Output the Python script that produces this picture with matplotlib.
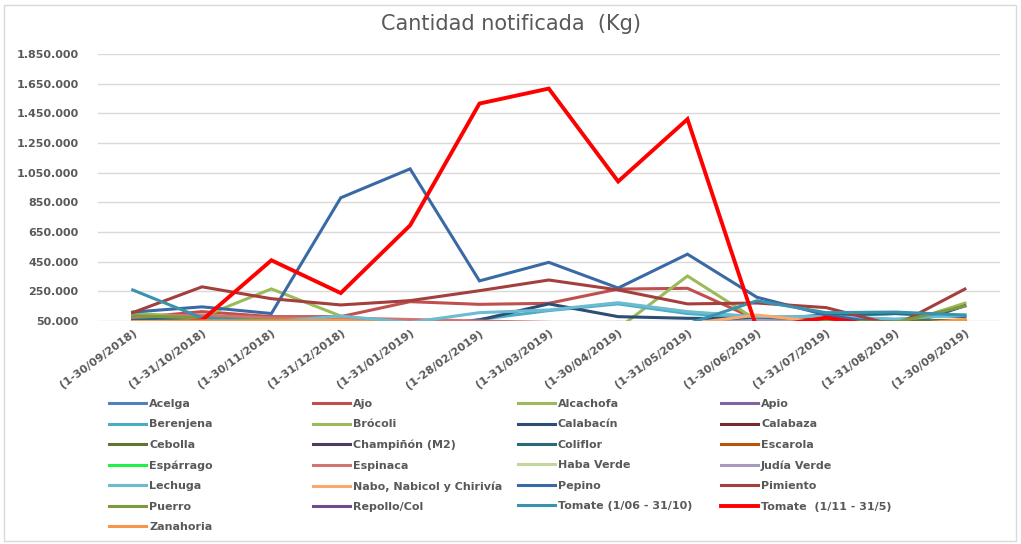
import matplotlib
matplotlib.use("Agg")
import matplotlib.pyplot as plt
from matplotlib.patches import Rectangle
from matplotlib.ticker import FuncFormatter

# meses (eje x)
meses = ["(1-30/09/2018)", "(1-31/10/2018)", "(1-30/11/2018)", "(1-31/12/2018)",
         "(1-31/01/2019)", "(1-28/02/2019)", "(1-31/03/2019)", "(1-30/04/2019)",
         "(1-31/05/2019)", "(1-30/06/2019)", "(1-31/07/2019)", "(1-31/08/2019)",
         "(1-30/09/2019)"]

# cantidades en kg, una lista por producto
acelga = [55000, 55000, 45000, 45000, 40000, 40000, 40000, 40000, 40000, 30000, 30000, 30000, 40000]
ajo = [70000, 113000, 79000, 79000, 180000, 162000, 169000, 265000, 270000, 60000, 10000, 0, 0]
alcachofa = [100000, 78000, 266000, 83000, 0, 0, 0, 0, 353000, 55000, 30000, 20000, 170000]
apio = [30000, 30000, 25000, 25000, 20000, 20000, 20000, 20000, 30000, 50000, 40000, 30000, 30000]
berenjena = [60000, 40000, 30000, 20000, 0, 60000, 120000, 165000, 100000, 70000, 80000, 100000, 80000]
brocoli = [60000, 55000, 40000, 40000, 30000, 20000, 20000, 20000, 20000, 10000, 10000, 10000, 20000]
calabacin = [55000, 79000, 50000, 40000, 0, 57000, 165000, 79000, 68000, 65000, 70000, 0, 152000]
calabaza = [40000, 45000, 40000, 30000, 20000, 10000, 10000, 20000, 30000, 50000, 60000, 40000, 50000]
cebolla = [50000, 60000, 50000, 40000, 20000, 10000, 10000, 10000, 20000, 40000, 60000, 50000, 55000]
champinon = [30000, 30000, 30000, 30000, 30000, 30000, 30000, 30000, 30000, 30000, 30000, 30000, 30000]
coliflor = [60000, 50000, 40000, 30000, 20000, 10000, 10000, 10000, 20000, 60000, 90000, 100000, 80000]
escarola = [30000, 40000, 40000, 45000, 40000, 30000, 20000, 10000, 5000, 5000, 5000, 10000, 20000]
esparrago = [0, 0, 0, 0, 0, 5000, 20000, 20000, 10000, 0, 0, 0, 0]
espinaca = [75000, 90000, 70000, 70000, 60000, 50000, 40000, 30000, 20000, 10000, 10000, 10000, 30000]
haba_verde = [10000, 10000, 20000, 30000, 30000, 30000, 20000, 10000, 5000, 0, 0, 0, 10000]
judia_verde = [30000, 40000, 40000, 30000, 20000, 20000, 20000, 20000, 30000, 55000, 40000, 30000, 30000]
lechuga = [40000, 45000, 45000, 83000, 40000, 106000, 124000, 173000, 113000, 79000, 80000, 63000, 90000]
nabo = [45000, 50000, 45000, 45000, 20000, 0, 0, 0, 30000, 90000, 40000, 0, 0]
pepino = [110000, 145000, 100000, 880000, 1075000, 320000, 445000, 272000, 500000, 210000, 90000, 20000, 30000]
pimiento = [106000, 280000, 200000, 158000, 187000, 254000, 326000, 259000, 165000, 171000, 140000, 20000, 265000]
puerro = [85000, 70000, 55000, 50000, 30000, 20000, 20000, 20000, 20000, 30000, 50000, 40000, 150000]
repollo = [20000, 30000, 40000, 40000, 30000, 20000, 20000, 10000, 10000, 10000, 20000, 20000, 20000]
tomate_verano = [259000, 70000, 45000, 30000, 10000, 0, 30000, 40000, 30000, 186000, 106000, 110000, 90000]
tomate_invierno = [0, 55000, 459000, 238000, 694000, 1515000, 1616000, 990000, 1410000, 0, 72000, 0, 0]
zanahoria = [40000, 50000, 50000, 55000, 30000, 10000, 10000, 10000, 20000, 40000, 30000, 20000, 60000]

series = [
    ("Acelga", acelga, "#4F81BD"),
    ("Ajo", ajo, "#C0504D"),
    ("Alcachofa", alcachofa, "#9BBB59"),
    ("Apio", apio, "#8064A2"),
    ("Berenjena", berenjena, "#4BACC6"),
    ("Brócoli", brocoli, "#9BBB59"),
    ("Calabacín", calabacin, "#2C4D75"),
    ("Calabaza", calabaza, "#772C2A"),
    ("Cebolla", cebolla, "#5F7530"),
    ("Champiñón (M2)", champinon, "#4D3B62"),
    ("Coliflor", coliflor, "#276A7C"),
    ("Escarola", escarola, "#B65708"),
    ("Espárrago", esparrago, "#22F04A"),
    ("Espinaca", espinaca, "#D07570"),
    ("Haba Verde", haba_verde, "#C3D69B"),
    ("Judía Verde", judia_verde, "#A99BBD"),
    ("Lechuga", lechuga, "#6BBCD1"),
    ("Nabo, Nabicol y Chirivía", nabo, "#F9A96B"),
    ("Pepino", pepino, "#3A6AA6"),
    ("Pimiento", pimiento, "#A33F3C"),
    ("Puerro", puerro, "#7E9A3E"),
    ("Repollo/Col", repollo, "#6B4E8A"),
    ("Tomate (1/06 - 31/10)", tomate_verano, "#3A93AE"),
    ("Tomate  (1/11 - 31/5)", tomate_invierno, "#FF0000"),
    ("Zanahoria", zanahoria, "#F79646"),
]

gris = "#595959"

fig = plt.figure(figsize=(10.21, 5.44), dpi=100)
ax = fig.add_axes([0.096, 0.41, 0.883, 0.491])

x = list(range(len(meses)))
handles = []
for nombre, valores, color in series:
    lw = 2.8 if nombre.startswith("Tomate  (1/11") else 2.2
    h, = ax.plot(x, valores, color=color, lw=lw, label=nombre, solid_joinstyle="miter")
    handles.append(h)

ax.set_xlim(-0.5, len(meses) - 0.5)
ax.set_ylim(50000, 1850000)
ax.set_yticks(range(50000, 1850001, 200000))
ax.yaxis.set_major_formatter(FuncFormatter(lambda v, p: f"{int(v):,}".replace(",", ".")))
ax.set_xticks(x)
ax.set_xticklabels(meses, rotation=36, ha="right", va="top", rotation_mode="anchor")
ax.grid(axis="y", color="#D9D9D9", lw=1)
ax.set_axisbelow(True)
for s in ax.spines.values():
    s.set_visible(False)
ax.tick_params(length=0, labelsize=8, labelcolor=gris)
ax.tick_params(axis="y", pad=14)
ax.tick_params(axis="x", pad=5)
for t in ax.get_xticklabels() + ax.get_yticklabels():
    t.set_fontweight("bold")

fig.text(0.5, 0.955, "Cantidad notificada  (Kg)", ha="center", va="center",
         fontsize=15, color=gris)

# leyenda en 4 columnas, orden por filas
col_x = [109, 313, 518, 721]
for c in range(4):
    hs = handles[c::4]
    leg = fig.legend(hs, [h.get_label() for h in hs], loc="upper left",
                     bbox_to_anchor=(col_x[c] / 1021, 1 - 399 / 544),
                     frameon=False, borderpad=0, borderaxespad=0,
                     handlelength=3.3, handletextpad=0.3, labelspacing=0.94,
                     prop={"size": 8, "weight": "bold"})
    for t in leg.get_texts():
        t.set_color(gris)

fig.patches.append(Rectangle((0.004, 0.006), 0.991, 0.985, transform=fig.transFigure,
                             fill=False, edgecolor="#D9D9D9", lw=1))

fig.savefig("out.png", dpi=100)
